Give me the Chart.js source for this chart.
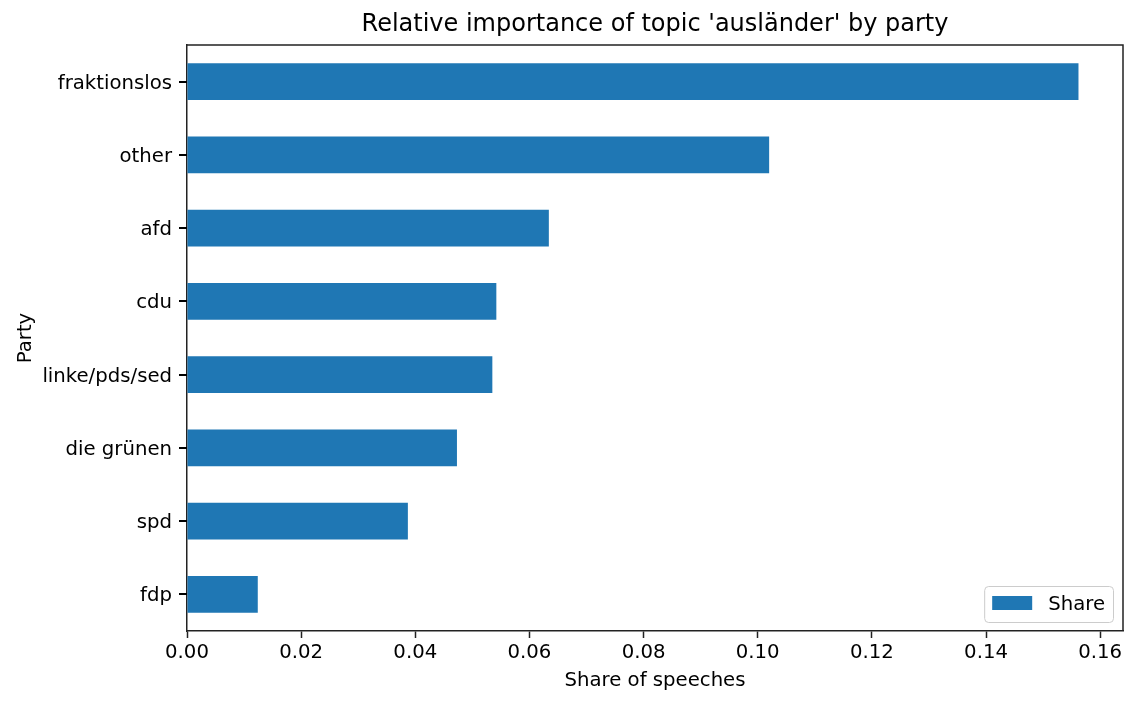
<!DOCTYPE html>
<html>
<head>
<meta charset="utf-8">
<script src="https://cdn.jsdelivr.net/npm/chart.js@4/dist/chart.umd.min.js"></script>
<style>
  html, body { margin: 0; padding: 0; background: #fff; }
  #chart { display: block; }
</style>
</head>
<body>
<canvas id="chart" width="1137" height="705"></canvas>
<script>
const parties = ["fraktionslos", "other", "afd", "cdu", "linke/pds/sed", "die grünen", "spd", "fdp"];
const shares = [0.1562, 0.1020, 0.0634, 0.0542, 0.0535, 0.0473, 0.0387, 0.0124];
const xTicks = [0, 0.02, 0.04, 0.06, 0.08, 0.10, 0.12, 0.14, 0.16];
const xMax = 0.164;

const FONT = "DejaVu Sans";
const AXIS = "#222222";
const FS = 19.7;

// axes frame (top + right sides), y tick marks at category centres, legend box
const framePlugin = {
    id: "frame",
    afterDraw(chart) {
        const { ctx, chartArea: a } = chart;
        ctx.save();
        ctx.strokeStyle = AXIS;
        ctx.lineWidth = 1.5;
        ctx.beginPath();
        ctx.moveTo(a.left, a.top);
        ctx.lineTo(a.right, a.top);
        ctx.lineTo(a.right, a.bottom);
        ctx.stroke();

        const ys = chart.scales.y;
        ctx.strokeStyle = "#000";
        ctx.lineWidth = 2;
        for (let i = 0; i < parties.length; i++) {
            const py = Math.round(ys.getPixelForValue(i));
            ctx.beginPath();
            ctx.moveTo(a.left - 8, py);
            ctx.lineTo(a.left, py);
            ctx.stroke();
        }

        // legend
        const ds = chart.data.datasets[0];
        ctx.font = `${FS}px "${FONT}"`;
        const tw = ctx.measureText(ds.label).width;
        const right = a.right - 10, bottom = a.bottom - 9;
        const w = 8 + 40 + 16 + tw + 8, h = 36;
        const left = right - w, top = bottom - h;
        ctx.beginPath();
        ctx.roundRect(left + 0.5, top + 0.5, w, h, 4);
        ctx.fillStyle = "rgba(255,255,255,0.8)";
        ctx.fill();
        ctx.strokeStyle = "#cccccc";
        ctx.lineWidth = 1;
        ctx.stroke();
        ctx.fillStyle = ds.backgroundColor;
        ctx.fillRect(left + 8, top + 10, 40, 14);
        ctx.fillStyle = "#000";
        ctx.textBaseline = "middle";
        ctx.textAlign = "left";
        ctx.fillText(ds.label, left + 64, top + 19);
        ctx.restore();
    }
};

new Chart(document.getElementById("chart"), {
    type: "bar",
    data: {
        labels: parties,
        datasets: [{
            label: "Share",
            data: shares,
            backgroundColor: "#1f77b4",
            barPercentage: 0.5,
            categoryPercentage: 1.0
        }]
    },
    options: {
        indexAxis: "y",
        responsive: false,
        animation: false,
        layout: { padding: { left: 0, right: 14, top: 0, bottom: 0 } },
        plugins: {
            legend: { display: false },
            tooltip: { enabled: false },
            title: {
                display: true,
                fullSize: false,
                text: "Relative importance of topic 'ausländer' by party",
                color: "#000",
                font: { family: FONT, size: 24, weight: "normal", lineHeight: 1.2 },
                padding: { top: 10, bottom: 6.2 }
            }
        },
        scales: {
            x: {
                min: 0,
                max: xMax,
                afterFit(scale) { scale.height = 74; },
                afterBuildTicks(scale) { scale.ticks = xTicks.map(v => ({ value: v })); },
                ticks: {
                    color: "#000",
                    font: { family: FONT, size: FS },
                    padding: 3,
                    maxRotation: 0,
                    callback: v => Number(v).toFixed(2)
                },
                grid: {
                    drawOnChartArea: false,
                    drawTicks: true,
                    tickLength: 7,
                    tickColor: AXIS,
                    tickWidth: 1.5
                },
                border: { color: AXIS, width: 1.5 },
                title: {
                    display: true,
                    text: "Share of speeches",
                    color: "#000",
                    font: { family: FONT, size: FS, lineHeight: 1.2 },
                    padding: { top: 12.2, bottom: 12.2 }
                }
            },
            y: {
                afterFit(scale) { scale.width = 187; },
                ticks: {
                    color: "#000",
                    font: { family: FONT, size: FS },
                    padding: 8,
                    labelOffset: 2
                },
                grid: {
                    drawOnChartArea: false,
                    drawTicks: true,
                    tickLength: 7,
                    tickColor: "rgba(0,0,0,0)",
                    tickWidth: 1.5
                },
                border: { color: AXIS, width: 1.5 },
                title: {
                    display: true,
                    text: "Party",
                    color: "#000",
                    font: { family: FONT, size: FS, lineHeight: 1.2 },
                    padding: { top: 14, bottom: 14 }
                }
            }
        }
    },
    plugins: [framePlugin]
});
</script>
</body>
</html>
